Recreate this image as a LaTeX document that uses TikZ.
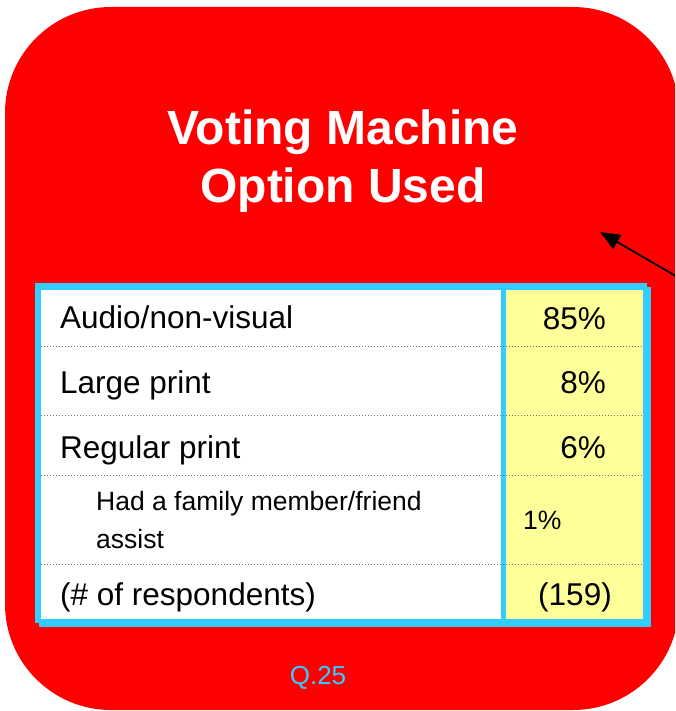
\documentclass[tikz,border=0pt]{standalone}
\usepackage{fontspec}
\setmainfont{Liberation Sans}
\usetikzlibrary{arrows.meta}
\definecolor{boxred}{RGB}{255,0,0}
\definecolor{framecyan}{RGB}{51,204,255}
\definecolor{cellyellow}{RGB}{255,255,153}
\tikzset{
  lbl/.style={anchor=base west, inner sep=0pt, font=\fontsize{31.5}{38}\selectfont},
  num/.style={anchor=base east, inner sep=0pt, font=\fontsize{31.5}{38}\selectfont},
  smalltxt/.style={anchor=base west, inner sep=0pt, font=\fontsize{26.5}{40}\selectfont},
  titletxt/.style={anchor=base, inner sep=0pt, text=white, font=\bfseries\fontsize{48}{58}\selectfont},
  rowline/.style={draw=black!55, line width=0.9pt, dash pattern=on 1pt off 2pt},
  pointer/.style={draw=black, line width=1.8pt, -{Triangle[length=20pt,width=16pt]}}
}
\begin{document}
\begin{tikzpicture}[x=1pt,y=-1pt]
\useasboundingbox (0,0) rectangle (675,711);
\begin{scope}
  \clip (0,0) rectangle (675,711);
  % red rounded panel
  \fill[boxred, rounded corners=106pt] (5,7) rectangle (679,710);
  % callout arrow coming in from the right edge
  \coordinate (src) at (700,290);
  \coordinate (tip) at (600,232);
  \draw[pointer] (src) -- (tip);
\end{scope}

% heading
\node[titletxt] (title1) at (343,145) {Voting Machine};
\node[titletxt] (title2) at (343,203) {Option Used};

% table frame (with a small offset copy)
\fill[framecyan] (35,283) rectangle (647,623);
\fill[framecyan] (39,287) rectangle (651,627);
\fill[white] (41,290) rectangle (501,619);
\fill[cellyellow] (506,290) rectangle (643,619);

% dotted row separators
\foreach \yy in {346,415,475,564}
  \draw[rowline] (41,\yy) -- (643,\yy);

% left column
\node[lbl] (audio) at (60,328) {Audio/non-visual};
\node[lbl] (large) at (60,393) {Large print};
\node[lbl] (regular) at (60,458) {Regular print};
\node[smalltxt] (family1) at (96,510) {Had a family member/friend};
\node[smalltxt] (family2) at (96,548) {assist};
\node[lbl] (resp) at (60,605) {(\# of respondents)};

% right column
\node[num] (paudio) at (606,329) {85\%};
\node[num] (plarge) at (606,393) {8\%};
\node[num] (pregular) at (606,458) {6\%};
\node[smalltxt] (pfamily) at (523,529) {1\%};
\node[lbl, anchor=base] (presp) at (575,605) {(159)};

% question reference
\node[anchor=base, inner sep=0pt, text=framecyan, font=\fontsize{26}{30}\selectfont] (qref) at (318,684) {Q.25};
\end{tikzpicture}
\end{document}
